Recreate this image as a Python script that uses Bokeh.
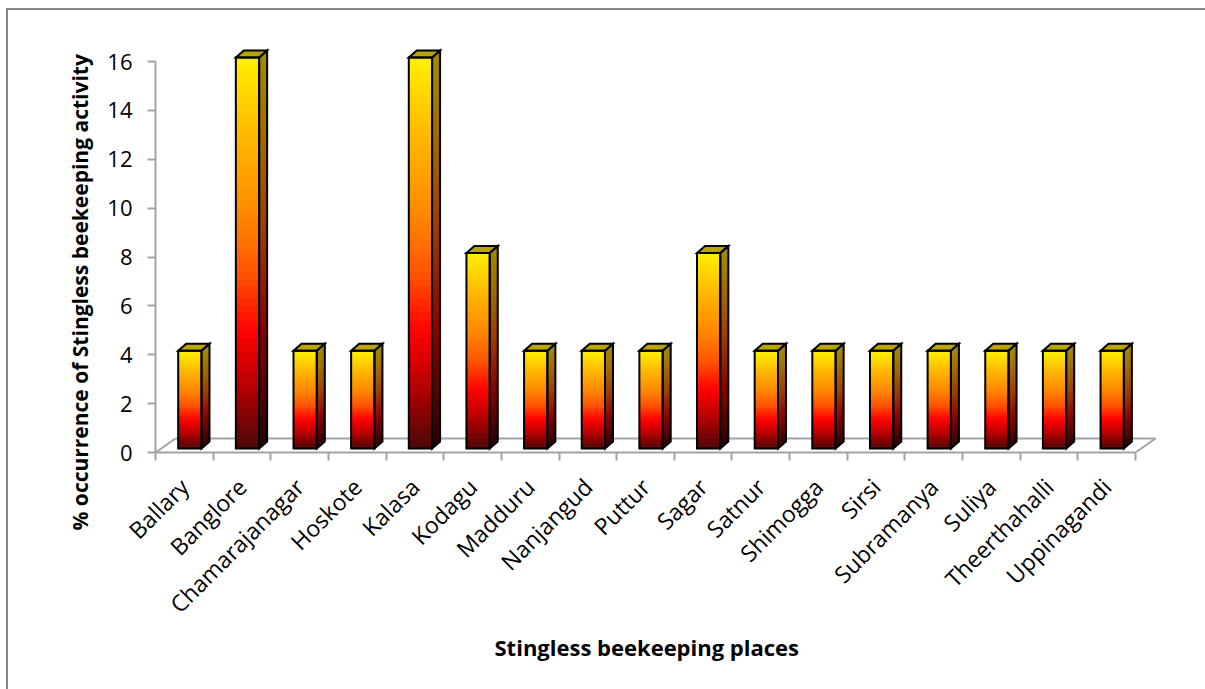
import math

from bokeh.plotting import figure
from bokeh.models import Range1d, FixedTicker, Title
from bokeh.embed import file_html
from bokeh.resources import INLINE

# ---- data -------------------------------------------------------------
places = ["Ballary", "Banglore", "Chamarajanagar", "Hoskote", "Kalasa",
          "Kodagu", "Madduru", "Nanjangud", "Puttur", "Sagar", "Satnur",
          "Shimogga", "Sirsi", "Subramanya", "Suliya", "Theerthahalli",
          "Uppinagandi"]
occurrence = [4, 16, 4, 4, 16, 8, 4, 4, 4, 8, 4, 4, 4, 4, 4, 4, 4]
y_ticks = [0, 2, 4, 6, 8, 10, 12, 14, 16]
x_title = "Stingless beekeeping places"
y_title = "% occurrence of Stingless beekeeping activity"

# ---- geometry (pixels) -------------------------------------------------
W, H = 1205, 689
FRAME_L, FRAME_R, FRAME_T, FRAME_B = 155, 1160, 40, 452
AXIS_LEN_X, AXIS_LEN_Y = 980, 391          # pixel length of the two axes
n = len(places)
y_top = y_ticks[-1]
px_x = AXIS_LEN_X / n                      # pixels per category
px_y = AXIS_LEN_Y / y_top                  # pixels per percent

# 3-D depth of the floor and of each column, converted to data units
floor_dx, floor_dy = 20 / px_x, 14 / px_y
bar_dx, bar_dy = 8 / px_x, 7 / px_y
bar_off, bar_w = 22.7 / px_x, 23.3 / px_x
bar_base = 4 / px_y

GRID = "#a3a3a3"
FONT = "Open Sans"

# vertical colour ramps (bottom -> top)
FRONT = [(0.00, (0x4a, 0x08, 0x08)), (0.15, (0xb0, 0x00, 0x00)),
         (0.30, (0xff, 0x00, 0x00)), (0.45, (0xff, 0x55, 0x00)),
         (0.60, (0xff, 0x88, 0x00)), (0.80, (0xff, 0xb8, 0x00)),
         (1.00, (0xff, 0xf0, 0x00))]
SIDE = [(0.00, (0x28, 0x00, 0x00)), (0.30, (0x8c, 0x00, 0x00)),
        (0.55, (0x9c, 0x3c, 0x00)), (0.80, (0xa0, 0x6c, 0x00)),
        (1.00, (0xa0, 0x8c, 0x00))]
TOP_FACE = "#b8a500"


def ramp(stops, t):
    for (t0, c0), (t1, c1) in zip(stops, stops[1:]):
        if t <= t1:
            f = (t - t0) / (t1 - t0)
            rgb = [round(a + (b - a) * f) for a, b in zip(c0, c1)]
            return "#%02x%02x%02x" % tuple(rgb)
    return "#%02x%02x%02x" % stops[-1][1]


x_end = (FRAME_R - FRAME_L) / px_x
y_end = (FRAME_B - FRAME_T) / px_y

p = figure(width=W, height=H, x_range=Range1d(0, x_end),
           y_range=Range1d(0, y_end), output_backend="svg",
           toolbar_location=None, min_border_left=FRAME_L,
           min_border_right=W - FRAME_R, min_border_top=FRAME_T,
           min_border_bottom=H - FRAME_B, outline_line_color=None,
           background_fill_color=None, border_fill_color=None)
p.grid.visible = False
p.styles = {
    "background": "linear-gradient(#868686,#868686) 6px 8px / 100% 2px no-repeat,"
                  " linear-gradient(#868686,#868686) 6px 8px / 2px 100% no-repeat,"
                  " #ffffff"
}

# ---- axes -------------------------------------------------------------
yax = p.yaxis[0]
yax.ticker = FixedTicker(ticks=y_ticks, minor_ticks=[])
yax.bounds = (0, y_top)
yax.axis_line_color = GRID
yax.axis_line_width = 2
yax.major_tick_line_color = GRID
yax.major_tick_line_width = 2
yax.major_tick_in = 0
yax.major_tick_out = 8
yax.minor_tick_line_color = None
yax.major_label_standoff = 15
yax.major_label_text_font = FONT
yax.major_label_text_font_size = "22px"
yax.major_label_text_color = "#000000"

xax = p.xaxis[0]
centers = [i + 0.5 for i in range(n)]
xax.ticker = FixedTicker(ticks=centers, minor_ticks=list(range(n + 1)))
xax.major_label_overrides = {c: name for c, name in zip(centers, places)}
xax.bounds = (0, n)
xax.axis_line_color = GRID
xax.axis_line_width = 2
xax.major_tick_line_color = None
xax.minor_tick_line_color = GRID
xax.minor_tick_line_width = 2
xax.minor_tick_in = 0
xax.minor_tick_out = 8
xax.major_label_orientation = math.pi / 4
xax.major_label_standoff = 22
xax.major_label_text_font = FONT
xax.major_label_text_font_size = "23px"
xax.major_label_text_color = "#000000"

# axis titles, placed from the start of their text
title_style = dict(text_font=FONT, text_font_style="bold",
                   text_color="#000000", align="left")
p.add_layout(Title(text=x_title, offset=339, text_font_size="22px",
                   standoff=-8, **title_style), "below")
p.add_layout(Title(text=y_title, offset=-78, text_font_size="21px",
                   standoff=21, **title_style), "left")

# ---- floor ------------------------------------------------------------
p.segment(x0=[0, n, floor_dx], y0=[0, 0, floor_dy],
          x1=[floor_dx, n + floor_dx, n + floor_dx],
          y1=[floor_dy, floor_dy, floor_dy], line_color=GRID, line_width=2)

# ---- columns ----------------------------------------------------------
N = 60
fl, fr, fb, ft, fc = [], [], [], [], []
sx, sy, sc = [], [], []
tx, ty = [], []
ox, oy = [], []
for i, v in enumerate(occurrence):
    x0 = i + bar_off
    x1 = x0 + bar_w
    for k in range(N):
        y0 = bar_base + v * k / N
        y1 = bar_base + v * (k + 1) / N
        t = (k + 0.5) / N
        fl.append(x0); fr.append(x1); fb.append(y0); ft.append(y1)
        fc.append(ramp(FRONT, t))
        sx.append([x1, x1 + bar_dx, x1 + bar_dx, x1])
        sy.append([y0, y0 + bar_dy, y1 + bar_dy, y1])
        sc.append(ramp(SIDE, t))
    top = bar_base + v
    tx.append([x0, x1, x1 + bar_dx, x0 + bar_dx])
    ty.append([top, top, top + bar_dy, top + bar_dy])
    # outlines: front, side, top
    ox += [[x0, x1, x1, x0],
           [x1, x1 + bar_dx, x1 + bar_dx, x1],
           [x0, x1, x1 + bar_dx, x0 + bar_dx]]
    oy += [[bar_base, bar_base, top, top],
           [bar_base, bar_base + bar_dy, top + bar_dy, top],
           [top, top, top + bar_dy, top + bar_dy]]

p.quad(left=fl, right=fr, bottom=fb, top=ft, fill_color=fc, line_color=fc,
       line_width=1)
p.patches(xs=sx, ys=sy, fill_color=sc, line_color=sc, line_width=1)
p.patches(xs=tx, ys=ty, fill_color=TOP_FACE, line_color=None)
p.patches(xs=ox, ys=oy, fill_color=None, line_color="#000000", line_width=2,
          line_join="miter")

open("out.html", "w").write(file_html(p, INLINE))
